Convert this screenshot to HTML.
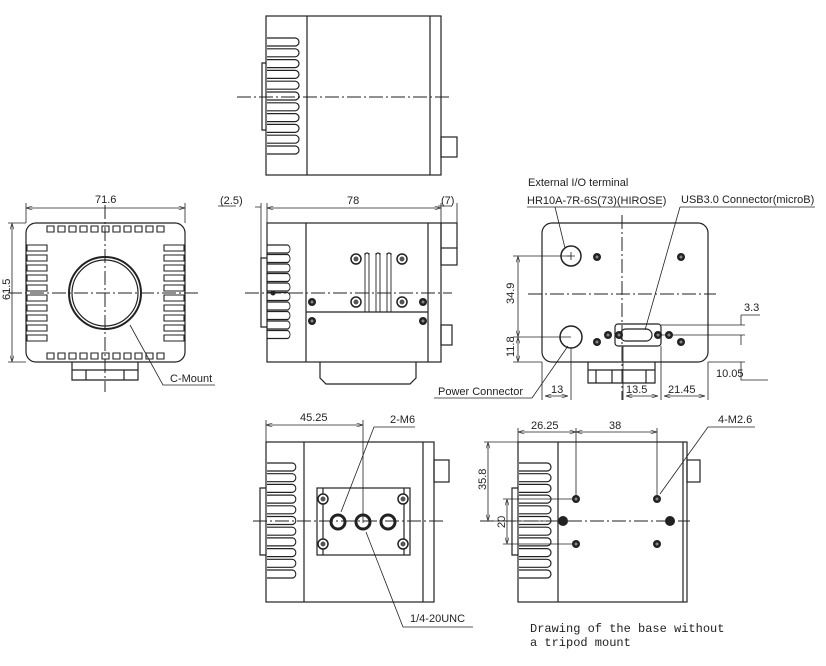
<!DOCTYPE html>
<html><head><style>
html,body{margin:0;padding:0;background:#fff;}
svg{display:block}
text{font-family:"Liberation Sans",sans-serif;font-size:11px;fill:#222}
</style></head><body>
<svg width="826" height="666" viewBox="0 0 826 666" xmlns="http://www.w3.org/2000/svg">
<defs>
<marker id="a" viewBox="0 0 10 6" refX="10" refY="3" markerWidth="8" markerHeight="5" orient="auto-start-reverse"><path d="M0,0L10,3L0,6" fill="none" stroke="#333"/></marker>
<g id="fin"><path d="M0,0H28a4,4 0 0 1 0,8H0" fill="none" stroke="#222" stroke-width="1.2"/></g>
<g id="bolt"><circle r="5" fill="#fff" stroke="#222" stroke-width="1.5"/><circle r="2.5" fill="#555"/></g>
<g id="dot"><circle r="4" fill="#222"/><circle r="1.5" fill="#888"/></g>
</defs>
<g fill="none" stroke="#222" stroke-width="1.2">
<rect x="266" y="16" width="175" height="159"/>
<line x1="307" y1="16" x2="307" y2="175"/><line x1="430" y1="16" x2="430" y2="175"/>
<path d="M266,63H262V130H266"/>
<rect x="441" y="137" width="16" height="20"/>
<line x1="237" y1="97" x2="452" y2="97" stroke-dasharray="14,3,2,3" stroke-width="1"/>
</g>
<g transform="translate(267,38)">
<use href="#fin" y="0"/><use href="#fin" y="10.8"/><use href="#fin" y="21.6"/><use href="#fin" y="32.4"/><use href="#fin" y="43.2"/><use href="#fin" y="54"/><use href="#fin" y="64.8"/><use href="#fin" y="75.6"/><use href="#fin" y="86.4"/><use href="#fin" y="97.2"/><use href="#fin" y="108"/>
</g>

<g fill="none" stroke="#222" stroke-width="1.2">
<rect x="26" y="223" width="159" height="139" rx="10"/>
<circle cx="105" cy="293" r="36" stroke-width="2"/><circle cx="105" cy="293" r="33"/>
<path d="M72,362V380H138V362M72,370H138M86,370V380M124,370V380"/>
<line x1="8" y1="293" x2="200" y2="293" stroke-dasharray="14,3,2,3" stroke-width="1"/>
<line x1="105" y1="205" x2="105" y2="392" stroke-dasharray="14,3,2,3" stroke-width="1"/>
<line x1="26" y1="208" x2="185" y2="208" stroke-width="0.8" marker-start="url(#a)" marker-end="url(#a)"/>
<line x1="26" y1="203" x2="26" y2="223" stroke-width="0.8"/><line x1="185" y1="203" x2="185" y2="223" stroke-width="0.8"/>
<line x1="12" y1="223" x2="12" y2="362" stroke-width="0.8" marker-start="url(#a)" marker-end="url(#a)"/>
<line x1="8" y1="223" x2="26" y2="223" stroke-width="0.8"/><line x1="8" y1="362" x2="26" y2="362" stroke-width="0.8"/>
<path d="M130,325L163,385H215" stroke-width="0.8"/>
</g>
<g fill="none" stroke="#222" stroke-width="1.1">
<path d="M47,226h7v6h-7zM58,226h7v6h-7zM69,226h7v6h-7zM80,226h7v6h-7zM91,226h7v6h-7zM102,226h7v6h-7zM113,226h7v6h-7zM124,226h7v6h-7zM135,226h7v6h-7zM146,226h7v6h-7zM157,226h7v6h-7z"/>
<path d="M47,353h7v6h-7zM58,353h7v6h-7zM69,353h7v6h-7zM80,353h7v6h-7zM91,353h7v6h-7zM102,353h7v6h-7zM113,353h7v6h-7zM124,353h7v6h-7zM135,353h7v6h-7zM146,353h7v6h-7zM157,353h7v6h-7z"/>
<path d="M27,245h20v6h-20zM27,255h20v6h-20zM27,265h20v6h-20zM27,275h20v6h-20zM27,285h20v6h-20zM27,295h20v6h-20zM27,305h20v6h-20zM27,315h20v6h-20zM27,325h20v6h-20zM27,335h20v6h-20z"/>
<path d="M164,245h20v6h-20zM164,255h20v6h-20zM164,265h20v6h-20zM164,275h20v6h-20zM164,285h20v6h-20zM164,295h20v6h-20zM164,305h20v6h-20zM164,315h20v6h-20zM164,325h20v6h-20zM164,335h20v6h-20z"/>
</g>
<text x="95" y="203">71.6</text>
<text x="10" y="300" transform="rotate(-90 10 300)">61.5</text>
<text x="170" y="382">C-Mount</text>

<g fill="none" stroke="#222" stroke-width="1.2">
<rect x="267" y="223" width="174" height="139"/>
<line x1="306" y1="223" x2="306" y2="362"/><line x1="428" y1="223" x2="428" y2="362"/>
<line x1="306" y1="312" x2="428" y2="312"/>
<path d="M267,258H261V327H267"/>
<path d="M320,362V378L326,384H410L416,378V362"/>
<rect x="441" y="223" width="16" height="42"/><line x1="441" y1="248" x2="457" y2="248"/>
<rect x="441" y="325" width="11" height="20"/>
<path d="M365,312V253M369,312V253M376,312V253M380,312V253M387,312V253M391,312V253" stroke-width="0.9"/>
<path d="M365,255a2,2 0 0 1 4,0M376,255a2,2 0 0 1 4,0M387,255a2,2 0 0 1 4,0"/>
<line x1="245" y1="293" x2="452" y2="293" stroke-dasharray="14,3,2,3" stroke-width="1"/>
<line x1="267" y1="208" x2="441" y2="208" stroke-width="0.8" marker-start="url(#a)" marker-end="url(#a)"/>
<path d="M255,207H261M261,203V258M267,203V223M441,203V223M457,203V223" stroke-width="0.8"/>
<path d="M218,206H236M438,206H452" stroke-width="0.8"/>
</g>
<g transform="translate(267,245)">
<use href="#fin" y="0" transform="scale(0.72,1)"/><use href="#fin" y="9.5" transform="scale(0.72,1)"/><use href="#fin" y="19" transform="scale(0.72,1)"/><use href="#fin" y="28.5" transform="scale(0.72,1)"/><use href="#fin" y="38" transform="scale(0.72,1)"/><use href="#fin" y="47.5" transform="scale(0.72,1)"/><use href="#fin" y="57" transform="scale(0.72,1)"/><use href="#fin" y="66.5" transform="scale(0.72,1)"/><use href="#fin" y="76" transform="scale(0.72,1)"/><use href="#fin" y="85.5" transform="scale(0.72,1)"/>
</g>
<use href="#bolt" x="356" y="259"/><use href="#bolt" x="402" y="259"/><use href="#bolt" x="356" y="302"/><use href="#bolt" x="402" y="302"/>
<use href="#dot" x="312" y="302"/><use href="#dot" x="312" y="321"/><use href="#dot" x="423" y="302"/><use href="#dot" x="423" y="321"/>
<circle cx="273" cy="293" r="2.5" fill="#222"/>
<text x="220" y="204">(2.5)</text><text x="347" y="204">78</text><text x="441" y="204">(7)</text>

<g fill="none" stroke="#222" stroke-width="1.2">
<rect x="542" y="223" width="166" height="139" rx="10"/>
<circle cx="571" cy="256" r="10" stroke-width="1.5"/><path d="M567,256h8M571,252v8" stroke-width="0.8"/>
<circle cx="571" cy="337" r="11" stroke-width="1.5"/>
<rect x="615" y="324" width="46" height="22" rx="3"/>
<path d="M626,329H646M626,341H646M626,329a6,6 0 0 0 0,12M646,329a6,6 0 0 1 0,12"/>
<path d="M588,362V383H655V362M588,370H655M596,370V383M646,370V383M612,370V383"/>
<line x1="528" y1="294" x2="716" y2="294" stroke-dasharray="14,3,2,3" stroke-width="1"/>
<line x1="622" y1="215" x2="622" y2="400" stroke-dasharray="14,3,2,3" stroke-width="1"/>
<path d="M513,256H571M513,337H571M513,362H542" stroke-width="0.8"/>
<line x1="518" y1="256" x2="518" y2="337" stroke-width="0.8" marker-start="url(#a)" marker-end="url(#a)"/>
<line x1="518" y1="337" x2="518" y2="362" stroke-width="0.8" marker-start="url(#a)" marker-end="url(#a)"/>
<path d="M542,362V400M571,348V400M623,346V400M661,346V400M708,362V400" stroke-width="0.8"/>
<line x1="545" y1="396" x2="568" y2="396" stroke-width="0.8" marker-start="url(#a)" marker-end="url(#a)"/>
<line x1="626" y1="396" x2="658" y2="396" stroke-width="0.8" marker-start="url(#a)" marker-end="url(#a)"/>
<line x1="664" y1="396" x2="705" y2="396" stroke-width="0.8" marker-start="url(#a)" marker-end="url(#a)"/>
<path d="M661,325H745M661,335H745M708,362H745" stroke-width="0.8"/>
<path d="M741,315V325M741,345V335M741,362V380H768M741,315H760" stroke-width="0.8"/>
<path d="M527,207H662M555,207L565,248" stroke-width="0.8"/>
<path d="M680,207H815M680,207L645,330" stroke-width="0.8"/>
<path d="M434,398H532L568,346" stroke-width="0.8"/>
</g>
<use href="#dot" x="597" y="257"/><use href="#dot" x="681" y="257"/><use href="#dot" x="597" y="342"/><use href="#dot" x="681" y="342"/>
<use href="#dot" x="608" y="335"/><use href="#dot" x="619" y="335"/><use href="#dot" x="658" y="335"/><use href="#dot" x="669" y="335"/>
<text x="528" y="186">External I/O terminal</text>
<text x="527" y="204">HR10A-7R-6S(73)(HIROSE)</text>
<text x="681" y="203">USB3.0 Connector(microB)</text>
<text x="514" y="304" transform="rotate(-90 514 304)">34.9</text>
<text x="514" y="357" transform="rotate(-90 514 357)">11.8</text>
<text x="438" y="395">Power Connector</text>
<text x="551" y="393">13</text><text x="626" y="393">13.5</text><text x="668" y="393">21.45</text>
<text x="744" y="311">3.3</text><text x="716" y="377">10.05</text>

<g fill="none" stroke="#222" stroke-width="1.2">
<rect x="266" y="442" width="168" height="160"/>
<line x1="304" y1="442" x2="304" y2="602"/><line x1="423" y1="442" x2="423" y2="602"/>
<path d="M266,488H260V555H266"/>
<rect x="434" y="460" width="15" height="22"/>
<rect x="317" y="488" width="93" height="67"/><line x1="323" y1="488" x2="323" y2="555"/><line x1="404" y1="488" x2="404" y2="555"/>
<circle cx="338" cy="522" r="7" stroke-width="3"/><circle cx="363" cy="522" r="7" stroke-width="3"/><circle cx="388" cy="522" r="7" stroke-width="3"/>
<line x1="253" y1="521" x2="444" y2="521" stroke-dasharray="14,3,2,3" stroke-width="1"/>
<path d="M266,420V442M363,420V523" stroke-width="0.8"/>
<line x1="266" y1="425" x2="363" y2="425" stroke-width="0.8" marker-start="url(#a)" marker-end="url(#a)"/>
<path d="M415,427H374L341,512" stroke-width="0.8"/>
<path d="M366,532L403,627H473" stroke-width="0.8"/>
</g>
<g transform="translate(267,463)">
<use href="#fin" y="0" transform="scale(0.9,1)"/><use href="#fin" y="10.7" transform="scale(0.9,1)"/><use href="#fin" y="21.4" transform="scale(0.9,1)"/><use href="#fin" y="32.1" transform="scale(0.9,1)"/><use href="#fin" y="42.8" transform="scale(0.9,1)"/><use href="#fin" y="53.5" transform="scale(0.9,1)"/><use href="#fin" y="64.2" transform="scale(0.9,1)"/><use href="#fin" y="74.9" transform="scale(0.9,1)"/><use href="#fin" y="85.6" transform="scale(0.9,1)"/><use href="#fin" y="96.3" transform="scale(0.9,1)"/><use href="#fin" y="107" transform="scale(0.9,1)"/>
</g>
<use href="#bolt" x="323" y="499"/><use href="#bolt" x="403" y="499"/><use href="#bolt" x="323" y="544"/><use href="#bolt" x="403" y="544"/>
<text x="300" y="421">45.25</text><text x="390" y="423">2-M6</text><text x="410" y="622">1/4-20UNC</text>

<g fill="none" stroke="#222" stroke-width="1.2">
<rect x="518" y="442" width="169" height="160"/>
<line x1="558" y1="442" x2="558" y2="602"/><line x1="683" y1="442" x2="683" y2="602"/>
<path d="M518,488H512V555H518"/>
<rect x="687" y="460" width="13" height="22"/>
<line x1="480" y1="521" x2="690" y2="521" stroke-dasharray="14,3,2,3" stroke-width="1"/>
<path d="M518,428V442M576,428V499M657,428V499" stroke-width="0.8"/>
<line x1="518" y1="432" x2="576" y2="432" stroke-width="0.8" marker-start="url(#a)" marker-end="url(#a)"/>
<line x1="576" y1="432" x2="657" y2="432" stroke-width="0.8" marker-start="url(#a)" marker-end="url(#a)"/>
<path d="M484,442H518M484,521H560M503,499H576M503,544H576" stroke-width="0.8"/>
<line x1="488" y1="442" x2="488" y2="521" stroke-width="0.8" marker-start="url(#a)" marker-end="url(#a)"/>
<line x1="507" y1="499" x2="507" y2="544" stroke-width="0.8" marker-start="url(#a)" marker-end="url(#a)"/>
<path d="M755,427H708L660,494" stroke-width="0.8"/>
</g>
<g transform="translate(519,463)">
<use href="#fin" y="0"/><use href="#fin" y="10.7"/><use href="#fin" y="21.4"/><use href="#fin" y="32.1"/><use href="#fin" y="42.8"/><use href="#fin" y="53.5"/><use href="#fin" y="64.2"/><use href="#fin" y="74.9"/><use href="#fin" y="85.6"/><use href="#fin" y="96.3"/><use href="#fin" y="107"/>
</g>
<use href="#dot" x="576" y="499"/><use href="#dot" x="657" y="499"/><use href="#dot" x="576" y="544"/><use href="#dot" x="657" y="544"/>
<circle cx="563" cy="521" r="5" fill="#222"/><circle cx="670" cy="521" r="5" fill="#222"/>
<text x="531" y="429">26.25</text><text x="609" y="429">38</text><text x="718" y="423">4-M2.6</text>
<text x="486" y="490" transform="rotate(-90 486 490)">35.8</text>
<text x="505" y="528" transform="rotate(-90 505 528)">20</text>
<text x="530" y="632" style="font-family:'Liberation Mono',monospace;font-size:12px">Drawing of the base without</text>
<text x="530" y="646" style="font-family:'Liberation Mono',monospace;font-size:12px">a tripod mount</text>
</svg>
</body></html>
